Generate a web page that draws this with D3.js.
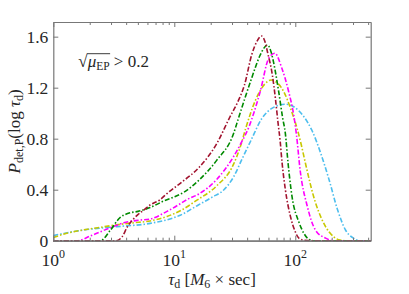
<!DOCTYPE html>
<html>
<head>
<meta charset="utf-8">
<script src="https://cdn.jsdelivr.net/npm/d3@7"></script>
<style>
  body { margin: 0; background: #fff; }
  svg { display: block; }
  text { font-family: "Liberation Serif", "DejaVu Serif", serif; fill: #262626; }
</style>
</head>
<body>
<div id="chart"></div>
<script>
// curves: tau_d (M6 x sec) and P_det,P(log tau_d)
const tauBlue = [1, 1.78, 3.35, 6.31, 11.2, 15.8, 20.4, 25.7, 30.9, 36.3, 42.7, 53.1, 64.6, 83.2, 114.8, 138.0, 162.2, 190.5, 223.9, 260.0, 302.0, 338.8, 420];
const pBlue   = [0.04, 0.084, 0.11, 0.136, 0.2, 0.28, 0.34, 0.40, 0.50, 0.64, 0.78, 0.96, 1.04, 1.07, 0.986, 0.86, 0.686, 0.476, 0.24, 0.084, 0.02, 0, 0];

const tauYellow = [1, 1.29, 1.78, 2.45, 3.35, 4.57, 6.31, 8.71, 11.2, 15.5, 22.4, 30.9, 35.5, 38.9, 46.8, 56.2, 63.1, 72.4, 80.2, 91.2, 103.5, 112.2, 121.3, 141.9, 171.8, 208.0, 234.4, 263.0, 420];
const pYellow   = [0.025, 0.058, 0.085, 0.105, 0.125, 0.14, 0.155, 0.19, 0.235, 0.32, 0.43, 0.60, 0.75, 0.88, 1.10, 1.23, 1.26, 1.23, 1.17, 1.04, 0.88, 0.75, 0.607, 0.345, 0.137, 0.03, 0.005, 0, 0];

const tauMagenta = [1, 1.58, 2.0, 2.45, 3.31, 3.98, 5.01, 6.31, 8.71, 11.2, 12.6, 16.2, 22.4, 30.9, 36.3, 41.7, 45.7, 51.3, 60.3, 67.6, 77.6, 88.1, 97.0, 102.3, 109.6, 125.9, 146.6, 177.8, 208.9, 420];
const pMagenta   = [0, 0, 0.035, 0.07, 0.12, 0.145, 0.16, 0.17, 0.23, 0.29, 0.32, 0.37, 0.48, 0.66, 0.78, 0.90, 1.01, 1.17, 1.43, 1.47, 1.35, 1.17, 0.986, 0.83, 0.555, 0.267, 0.084, 0.02, 0, 0];

const tauGreen = [1, 2.45, 2.95, 3.55, 4.17, 5.01, 6.31, 8.13, 9.77, 12.0, 16.2, 22.4, 30.9, 33.9, 42.7, 51.3, 55.0, 58.9, 63.1, 66.1, 72.9, 78.7, 82.8, 87.1, 94.0, 106.7, 117.5, 125.9, 141, 420];
const pGreen   = [0, 0, 0.08, 0.18, 0.215, 0.23, 0.26, 0.31, 0.34, 0.38, 0.48, 0.63, 0.84, 0.96, 1.25, 1.456, 1.51, 1.535, 1.48, 1.40, 1.17, 0.96, 0.84, 0.61, 0.345, 0.15, 0.06, 0.02, 0, 0];

const tauRed = [1, 3.3, 3.7, 4.1, 4.6, 5.0, 5.6, 6.3, 7.6, 8.7, 11.2, 16.2, 22.4, 28.8, 33.9, 38.0, 43.7, 49.0, 52.5, 56.2, 58.9, 64.6, 68.4, 71.9, 75.0, 77.6, 82.8, 91.2, 100, 107, 120, 141, 420];
const pRed   = [0, 0, 0.03, 0.11, 0.17, 0.205, 0.24, 0.28, 0.32, 0.37, 0.45, 0.58, 0.76, 0.97, 1.10, 1.22, 1.46, 1.575, 1.605, 1.56, 1.48, 1.30, 1.12, 0.93, 0.78, 0.62, 0.40, 0.19, 0.07, 0.02, 0.003, 0, 0];

const xMajorTicks = [1, 10, 100];
const xMinorTicks = [2, 3, 4, 5, 6, 7, 8, 9, 20, 30, 40, 50, 60, 70, 80, 90, 200, 300, 400];
const xTickExponents = ["0", "1", "2"];
const yTicks = [0, 0.4, 0.8, 1.2, 1.6];
const yTickLabels = ["0", "0.4", "0.8", "1.2", "1.6"];

const seriesList = [
  { tau: tauBlue,    p: pBlue,    color: "#4dbeee" },
  { tau: tauYellow,  p: pYellow,  color: "#c8c800" },
  { tau: tauMagenta, p: pMagenta, color: "#ff00ff" },
  { tau: tauGreen,   p: pGreen,   color: "#008a00" },
  { tau: tauRed,     p: pRed,     color: "#a2142f" }
];

const width = 409, height = 294;
const margin = { top: 22, right: 38.3, bottom: 53.3, left: 53.3 };
const innerW = width - margin.left - margin.right;
const innerH = height - margin.top - margin.bottom;

const svg = d3.select("#chart").append("svg")
  .attr("width", width)
  .attr("height", height);

svg.append("rect").attr("width", width).attr("height", height).attr("fill", "#fff");

const g = svg.append("g").attr("transform", `translate(${margin.left},${margin.top})`);

const x = d3.scaleLog().domain([1, 420]).range([0, innerW]);
const y = d3.scaleLinear().domain([0, 1.715]).range([innerH, 0]);

const line = d3.line()
  .x(d => x(d[0]))
  .y(d => y(d[1]))
  .curve(d3.curveMonotoneX);

// curves
const curves = g.append("g");
seriesList.forEach(s => {
  curves.append("path")
    .datum(s.tau.map((t, i) => [t, s.p[i]]))
    .attr("fill", "none")
    .attr("stroke", s.color)
    .attr("stroke-width", 1.6)
    .attr("stroke-dasharray", "5,2,1.5,2")
    .attr("d", line);
});

// axes, MATLAB style ticks pointing inward on all four sides
const axisColor = "#777";
function styleAxis(sel) {
  sel.select(".domain").attr("stroke", axisColor).attr("stroke-width", 1.2);
  sel.selectAll(".tick line").attr("stroke", axisColor).attr("stroke-width", 1);
  sel.selectAll(".tick text").remove();
}

g.append("g").attr("transform", `translate(0,${innerH})`)
  .call(d3.axisBottom(x).tickValues(xMajorTicks).tickSize(-5).tickSizeOuter(0))
  .call(styleAxis);
g.append("g").attr("transform", `translate(0,${innerH})`)
  .call(d3.axisBottom(x).tickValues(xMinorTicks).tickSize(-3).tickSizeOuter(0))
  .call(styleAxis);
g.append("g")
  .call(d3.axisTop(x).tickValues(xMajorTicks).tickSize(-5).tickSizeOuter(0))
  .call(styleAxis);
g.append("g")
  .call(d3.axisTop(x).tickValues(xMinorTicks).tickSize(-3).tickSizeOuter(0))
  .call(styleAxis);
g.append("g")
  .call(d3.axisLeft(y).tickValues(yTicks).tickSize(-5).tickSizeOuter(0))
  .call(styleAxis);
g.append("g").attr("transform", `translate(${innerW},0)`)
  .call(d3.axisRight(y).tickValues(yTicks).tickSize(-5).tickSizeOuter(0))
  .call(styleAxis);

// y tick labels
g.append("g").selectAll("text")
  .data(yTicks)
  .join("text")
  .attr("x", -5)
  .attr("y", d => y(d))
  .attr("dy", "0.35em")
  .attr("text-anchor", "end")
  .attr("font-size", 17.5)
  .text((d, i) => yTickLabels[i]);

// x tick labels 10^n
const xl = g.append("g").selectAll("text")
  .data(xMajorTicks)
  .join("text")
  .attr("x", d => x(d))
  .attr("y", innerH + 25.5)
  .attr("text-anchor", "middle")
  .attr("font-size", 17.5);
xl.append("tspan").text("10");
xl.append("tspan").attr("font-size", 12).attr("dy", -8).text((d, i) => xTickExponents[i]);

// x axis label
const xt = g.append("text")
  .attr("x", innerW / 2)
  .attr("y", innerH + 44.5)
  .attr("text-anchor", "middle")
  .attr("font-size", 17);
xt.append("tspan").attr("font-style", "italic").text("τ");
xt.append("tspan").attr("font-size", 12).attr("dy", 3).text("d");
xt.append("tspan").attr("dy", -3).text(" [");
xt.append("tspan").attr("font-style", "italic").text("M");
xt.append("tspan").attr("font-size", 12).attr("dy", 3).text("6");
xt.append("tspan").attr("dy", -3).text(" × sec]");

// y axis label
const yt = svg.append("text")
  .attr("transform", `translate(20,${margin.top + innerH / 2}) rotate(-90)`)
  .attr("text-anchor", "middle")
  .attr("font-size", 17);
yt.append("tspan").attr("font-style", "italic").text("P");
yt.append("tspan").attr("font-size", 12).attr("dy", 3).text("det,P");
yt.append("tspan").attr("dy", -3).text("(log ");
yt.append("tspan").attr("font-style", "italic").text("τ");
yt.append("tspan").attr("font-size", 12).attr("dy", 3).text("d");
yt.append("tspan").attr("dy", -3).text(")");

// annotation sqrt(mu_EP) > 0.2
const annY = 45;
const ann = g.append("text")
  .attr("x", 25)
  .attr("y", annY)
  .attr("font-size", 17);
ann.append("tspan").text("√");
ann.append("tspan").attr("font-style", "italic").text("μ");
ann.append("tspan").attr("font-size", 11.5).attr("dy", 3).text("EP");
ann.append("tspan").attr("dy", -3).text(" > 0.2");
// overline of the radical, spanning the radicand
const n = ann.node();
const startX = n.getStartPositionOfChar(1).x;
const endX = n.getEndPositionOfChar(3).x;
g.append("line")
  .attr("x1", startX - 0.5).attr("x2", endX + 0.5)
  .attr("y1", annY - 13.3).attr("y2", annY - 13.3)
  .attr("stroke", "#262626").attr("stroke-width", 0.9);
</script>
</body>
</html>
